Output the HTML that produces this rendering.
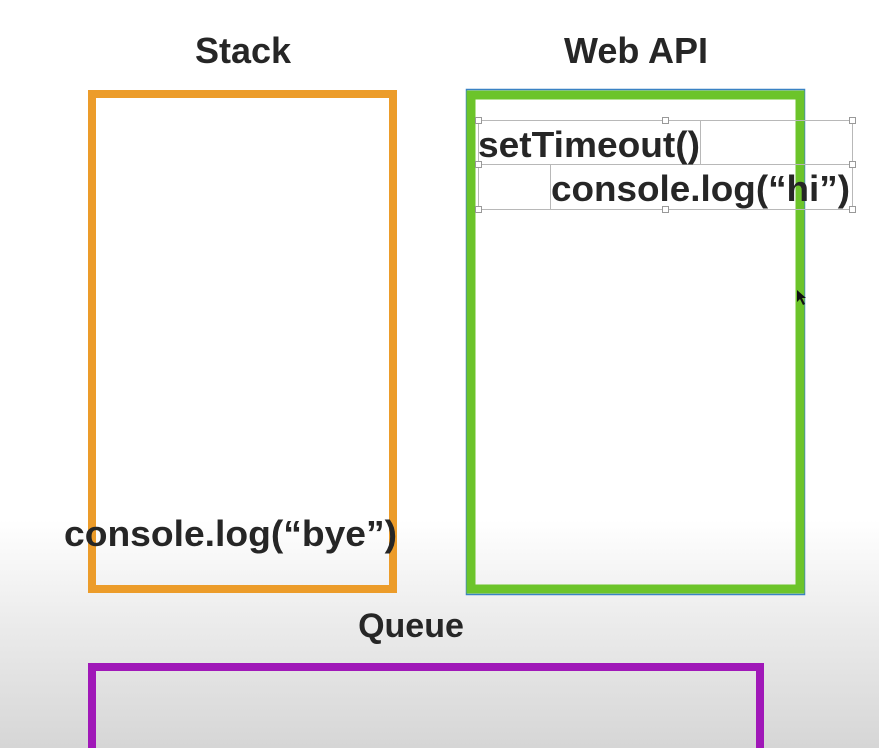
<!DOCTYPE html>
<html><head><meta charset="utf-8"><style>
html,body{margin:0;padding:0;}
body{width:879px;height:748px;overflow:hidden;background:linear-gradient(to bottom,#ffffff 0px,#ffffff 520px,#ececec 620px,#d6d6d6 748px);}
svg{display:block;}
text{font-family:"Liberation Sans",Arial,sans-serif;font-weight:bold;fill:#262626;}
</style></head><body>
<svg width="879" height="748" viewBox="0 0 879 748" xmlns="http://www.w3.org/2000/svg">
<text x="243" y="63" font-size="36" text-anchor="middle">Stack</text>
<text x="636" y="63" font-size="36" text-anchor="middle">Web API</text>
<rect x="92" y="94" width="301" height="495" fill="none" stroke="#ec9c2a" stroke-width="8"/>
<rect x="466.5" y="89.5" width="338" height="505" fill="none" stroke="#3a82c4" stroke-width="1.5"/>
<rect x="471" y="95" width="329" height="494" fill="none" stroke="#6cc42a" stroke-width="9"/>
<g stroke="#b8b8b8" stroke-width="1" fill="none">
<rect x="478.5" y="120.5" width="374" height="89"/>
<rect x="478.5" y="120.5" width="222" height="44"/>
<rect x="550.5" y="164.5" width="302" height="45"/>
</g>
<g fill="#fff" stroke="#999" stroke-width="1">
<rect x="475.5" y="117.5" width="6" height="6"/>
<rect x="662.5" y="117.5" width="6" height="6"/>
<rect x="849.5" y="117.5" width="6" height="6"/>
<rect x="475.5" y="161.5" width="6" height="6"/>
<rect x="849.5" y="161.5" width="6" height="6"/>
<rect x="475.5" y="206.5" width="6" height="6"/>
<rect x="662.5" y="206.5" width="6" height="6"/>
<rect x="849.5" y="206.5" width="6" height="6"/>
</g>
<text x="478" y="157" font-size="36" textLength="222" lengthAdjust="spacingAndGlyphs">setTimeout()</text>
<text x="551" y="201" font-size="36" textLength="299" lengthAdjust="spacingAndGlyphs">console.log(“hi”)</text>
<path d="M797 290 L797 302 L800 299 L803 305 L805 304 L802 298 L806 298 Z" fill="#111"/>
<text x="64" y="546" font-size="36" textLength="333" lengthAdjust="spacingAndGlyphs">console.log(“bye”)</text>
<text x="411" y="637" font-size="34" text-anchor="middle">Queue</text>
<rect x="92" y="667" width="668" height="100" fill="none" stroke="#a018b8" stroke-width="8"/>
</svg>
</body></html>
